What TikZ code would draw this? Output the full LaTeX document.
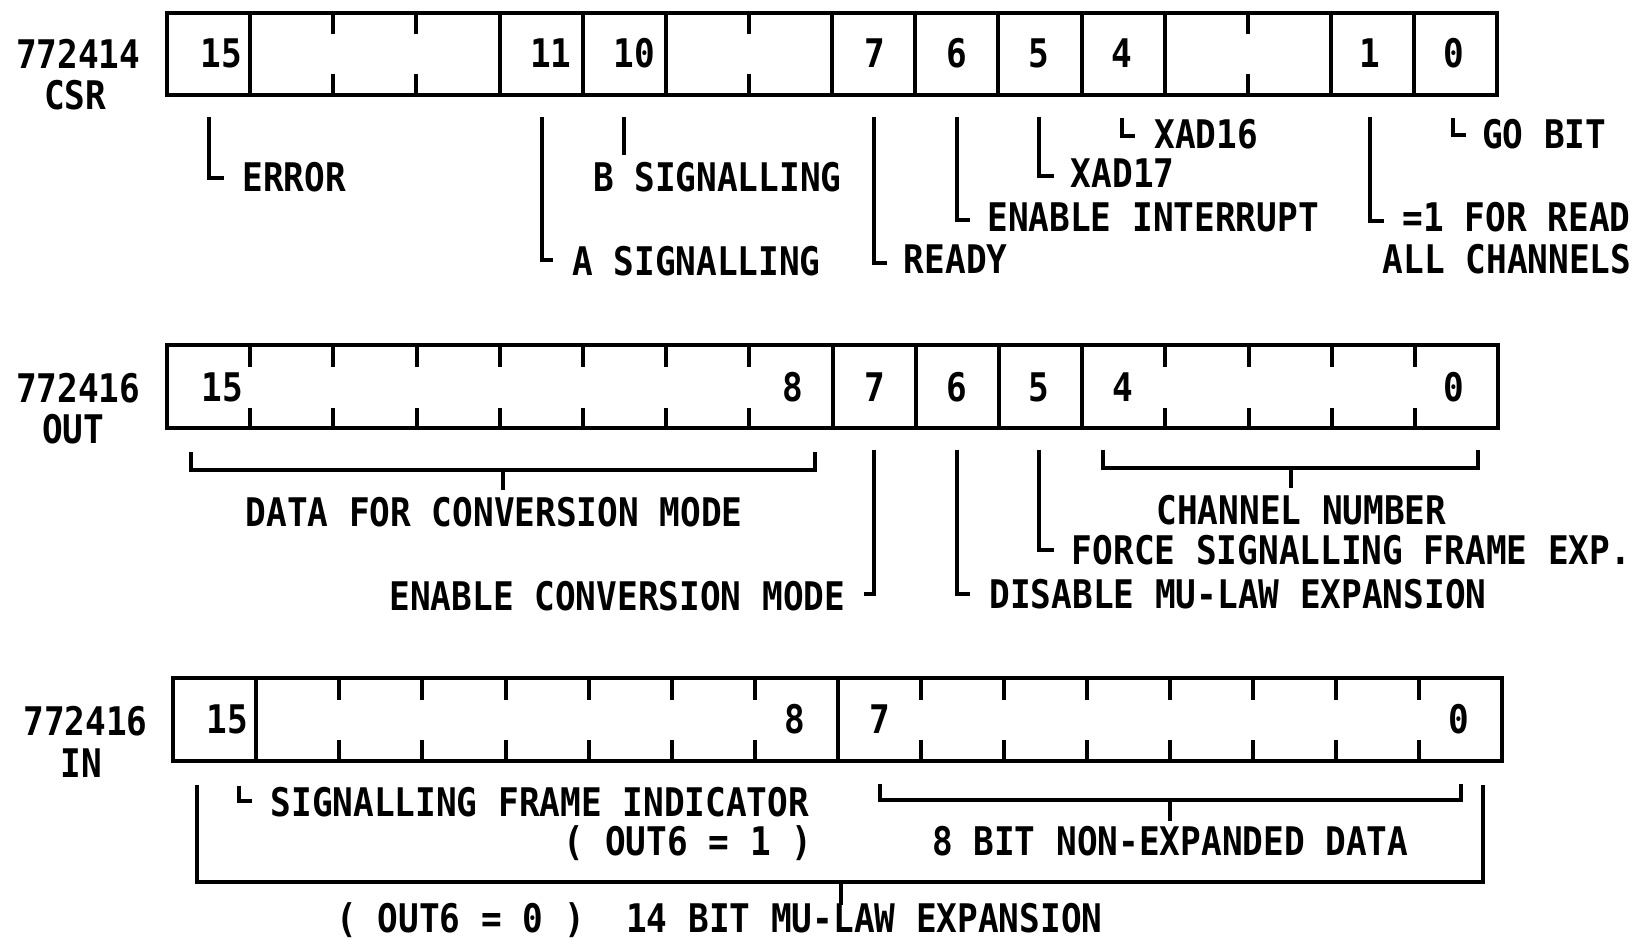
\documentclass[tikz,border=0pt]{standalone}
\usepackage{fontspec}
\newfontfamily\plotfont[FakeStretch=0.873]{DejaVu Sans Mono}
\tikzset{
  regline/.style={line width=2pt, line join=miter},
  lead/.style={line width=2pt, line join=miter},
  pfont/.style={font={\plotfont\bfseries\fontsize{19.7pt}{22pt}\selectfont}},
  txt/.style={pfont, anchor=base west, inner sep=0pt},
  num/.style={pfont, anchor=base, inner sep=0pt},
}
\begin{document}
\begin{tikzpicture}[x=0.52168pt, y=-0.52168pt]
\useasboundingbox[fill=white] (0,0) rectangle (1568,901);

% ---------------- Row 1 : CSR ----------------
\draw[regline] (160,12) rectangle (1435,91);
\foreach \k in {1,4,5,6,8,9,10,11,12,14,15}
  \draw[regline] ({160+\k*79.69},12) -- ({160+\k*79.69},91);
\foreach \k in {2,3,7,13} {
  \draw[regline] ({160+\k*79.69},12) -- ({160+\k*79.69},33);
  \draw[regline] ({160+\k*79.69},71) -- ({160+\k*79.69},91);
}
\node[txt] (ra) at (15,66) {772414};
\node[txt] (rb) at (42,105) {CSR};
\node[num] (c15) at (212,65) {15};
\node[num] (c11) at (528,65) {11};
\node[num] (c10) at (608,65) {10};
\node[num] (c7) at (838,65) {7};
\node[num] (c6) at (917,65) {6};
\node[num] (c5) at (996,65) {5};
\node[num] (c4) at (1075,65) {4};
\node[num] (c1) at (1313,65) {1};
\node[num] (c0) at (1393,65) {0};

\node[txt] (lerr) at (232,184) {ERROR};
\draw[lead] (200,112) |- (215,171);
\node[txt] (lbs) at (568,184) {B SIGNALLING};
\draw[lead] (598,112) -- (598,149);
\node[txt] (las) at (548,264) {A SIGNALLING};
\draw[lead] (519,112) |- (530,249);
\node[txt] (lrdy) at (866,262) {READY};
\draw[lead] (838,112) |- (850,252);
\node[txt] (lei) at (946,222) {ENABLE INTERRUPT};
\draw[lead] (917,112) |- (930,211);
\node[txt] (lx17) at (1026,180) {XAD17};
\draw[lead] (996,112) |- (1010,169);
\node[txt] (lx16) at (1106,142) {XAD16};
\draw[lead] (1075,113) |- (1088,130);
\node[txt] (lrd) at (1344,222) {=1 FOR READ};
\node[txt] (lall) at (1325,262) {ALL CHANNELS};
\draw[lead] (1313,112) |- (1326,212);
\node[txt] (lgo) at (1420,142) {GO BIT};
\draw[lead] (1393,113) |- (1405,129);

% ---------------- Row 2 : OUT ----------------
\draw[regline] (160,331) rectangle (1436,410);
\foreach \k in {8,9,10,11}
  \draw[regline] ({160+\k*79.75},331) -- ({160+\k*79.75},410);
\foreach \k in {1,2,3,4,5,6,7,12,13,14,15} {
  \draw[regline] ({160+\k*79.75},331) -- ({160+\k*79.75},352);
  \draw[regline] ({160+\k*79.75},391) -- ({160+\k*79.75},410);
}
\node[txt] (oa) at (15,386) {772416};
\node[txt] (ob) at (40,425) {OUT};
\node[num] (o15) at (213,385) {15};
\node[num] (o8) at (760,385) {8};
\node[num] (o7) at (838,385) {7};
\node[num] (o6) at (917,385) {6};
\node[num] (o5) at (996,385) {5};
\node[num] (o4) at (1076,385) {4};
\node[num] (o0) at (1393,385) {0};

\draw[lead] (183,433) -- (183,450) -- (781,450) -- (781,433);
\draw[lead] (482,450) -- (482,470);
\node[txt] (ldata) at (235,505) {DATA FOR CONVERSION MODE};
\node[txt] (lecm) at (373,585) {ENABLE CONVERSION MODE};
\draw[lead] (838,431) |- (828,569);
\node[txt] (ldis) at (948,583) {DISABLE MU-LAW EXPANSION};
\draw[lead] (917,431) |- (930,569);
\node[txt] (lforce) at (1027,541) {FORCE SIGNALLING FRAME EXP.};
\draw[lead] (996,431) |- (1010,527);
\draw[lead] (1057,431) -- (1057,449) -- (1417,449) -- (1417,431);
\draw[lead] (1237,449) -- (1237,468);
\node[txt] (lchan) at (1108,503) {CHANNEL NUMBER};

% ---------------- Row 3 : IN ----------------
\draw[regline] (166,650) rectangle (1440,729);
\foreach \k in {1,8}
  \draw[regline] ({166+\k*79.625},650) -- ({166+\k*79.625},729);
\foreach \k in {2,3,4,5,6,7,9,10,11,12,13,14,15} {
  \draw[regline] ({166+\k*79.625},650) -- ({166+\k*79.625},671);
  \draw[regline] ({166+\k*79.625},709) -- ({166+\k*79.625},729);
}
\node[txt] (ia) at (22,705) {772416};
\node[txt] (ib) at (58,745) {IN};
\node[num] (i15) at (218,703) {15};
\node[num] (i8) at (762,703) {8};
\node[num] (i7) at (843,703) {7};
\node[num] (i0) at (1398,703) {0};

\draw[lead] (229,753) |- (242,768);
\node[txt] (lsfi) at (259,783) {SIGNALLING FRAME INDICATOR};
\node[txt] (lo1) at (540,820) {( OUT6 = 1 )};
\draw[lead] (843,751) -- (843,767) -- (1400,767) -- (1400,751);
\draw[lead] (1121,767) -- (1121,787);
\node[txt] (l8b) at (893,820) {8 BIT NON-EXPANDED DATA};
\draw[lead] (189,752) -- (189,845) -- (1421,845) -- (1421,752);
\draw[lead] (806,845) -- (806,867);
\node[txt] (l14) at (322,894) {( OUT6 = 0 )~~14 BIT MU-LAW EXPANSION};
\end{tikzpicture}
\end{document}
